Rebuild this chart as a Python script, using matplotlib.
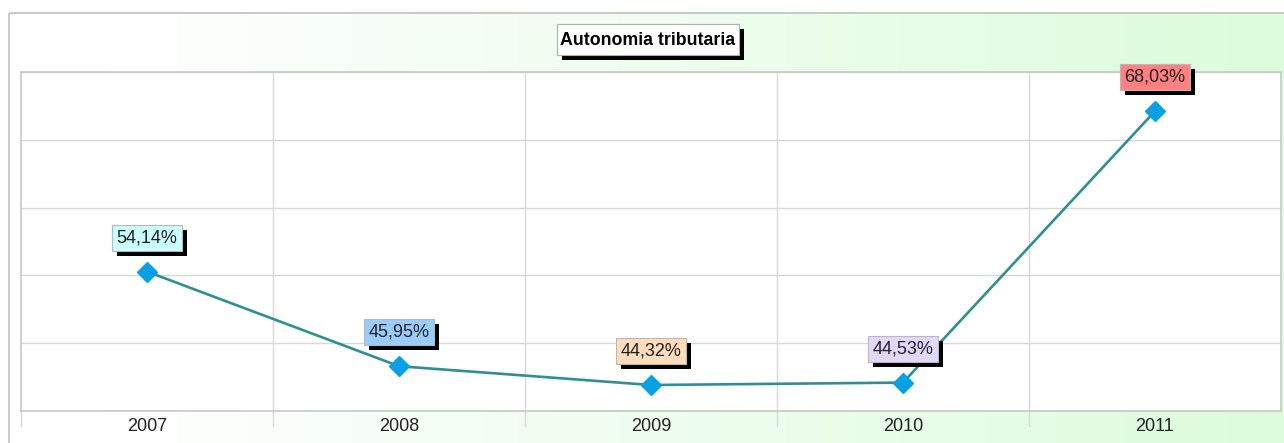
import matplotlib
matplotlib.use("Agg")
import matplotlib.pyplot as plt
import numpy as np
from matplotlib.patches import Rectangle
import matplotlib.colors as mcolors
from matplotlib.transforms import IdentityTransform

years = ["2007", "2008", "2009", "2010", "2011"]
values = [54.14, 45.95, 44.32, 44.53, 68.03]
labels = ["54,14%", "45,95%", "44,32%", "44,53%", "68,03%"]
label_colors = ["#ccffff", "#99ccff", "#ffdcbc", "#e2d8ff", "#ff8080"]
title = "Autonomia tributaria"

W, H = 1284, 443
plt.rcParams['font.family'] = ['Liberation Sans', 'DejaVu Sans']
fig = plt.figure(figsize=(W / 100, H / 100), dpi=100)

# background gradient panel
bg = fig.add_axes([0, 0, 1, 1], zorder=0)
bg.set_xlim(0, W)
bg.set_ylim(H, 0)
bg.axis("off")
grad = np.linspace(0, 1, 512)
grad = np.clip((grad - 0.08) / 0.92, 0, 1)
c0 = np.array(mcolors.to_rgb("#ffffff"))
c1 = np.array(mcolors.to_rgb("#dcfcdc"))
img = c0[None, None, :] * (1 - grad)[None, :, None] + c1[None, None, :] * grad[None, :, None]
bg.imshow(img, extent=[8, W + 10, H, 12], aspect="auto", zorder=0)
bg.add_patch(Rectangle((8.5, 12.5), W, H, fill=False, edgecolor="#c0c0c0", lw=1.2, zorder=1))

# title box with drop shadow
bg.add_patch(Rectangle((562, 29), 182, 31, facecolor="black", edgecolor="none", zorder=2))
bg.add_patch(Rectangle((557, 24), 182, 31, facecolor="white", edgecolor="#b0b0b0", lw=0.8, zorder=3))
bg.text(648, 40, title, ha="center", va="center", fontsize=12.8, fontweight="bold",
        color="black", zorder=4)

# plot axes
x0, x1 = 21, 1281
ytop, ybot = 72, 411
ax = fig.add_axes([x0 / W, (H - ybot) / H, (x1 - x0) / W, (ybot - ytop) / H], zorder=1)
ax.set_facecolor("white")
ymin, ymax = 42.07, 71.42
ax.set_ylim(ymin, ymax)
ax.set_xlim(-0.5, len(years) - 0.5)
xs = np.arange(len(years))
ax.set_yticks(np.linspace(ymin, ymax, 6))
ax.set_yticklabels([])
ax.tick_params(axis="y", length=0)
ax.grid(axis="y", color="#d8d8d8", lw=1)
for b in np.arange(0.5, len(years) - 0.5, 1.0):
    ax.axvline(b, color="#d8d8d8", lw=1, zorder=0)
ax.set_xticks(xs)
ax.set_xticklabels(years, fontsize=13, color="#222222")
ax.tick_params(axis="x", length=0, pad=5)
for s in ["top", "right", "left", "bottom"]:
    ax.spines[s].set_color("#c8c8c8")
    ax.spines[s].set_linewidth(1.2)
ax.set_axisbelow(True)

# tick marks below the axis at category boundaries
for b in list(np.arange(0.5, len(years) - 0.5, 1.0)) + [-0.5]:
    ax.plot([b, b], [ymin, ymin - (15 / (ybot - ytop)) * (ymax - ymin)], color="#d8d8d8", lw=1,
            clip_on=False, zorder=0)

ax.plot(xs, values, color="#2e9090", lw=1.9, zorder=3)
ax.plot(xs, values, linestyle="none", marker="D", markersize=10.5, color="#0aa0e6",
        markeredgecolor="#0aa0e6", zorder=4)

anns = []
for x, v, lab, col in zip(xs, values, labels, label_colors):
    t = ax.annotate(lab, (x, v), xytext=(0, 34), textcoords="offset pixels",
                    ha="center", va="center", fontsize=13, color="#222222", zorder=6,
                    bbox=dict(boxstyle="square,pad=0.25", facecolor=col, edgecolor="#b8b8b8", lw=0.8))
    anns.append(t)

# drop shadows behind the label boxes
fig.canvas.draw()
renderer = fig.canvas.get_renderer()
for t in anns:
    ext = t.get_bbox_patch().get_window_extent(renderer)
    r = Rectangle((ext.x0 + 5, ext.y0 - 5), ext.width, ext.height,
                  facecolor="black", edgecolor="none", zorder=5)
    ax.add_artist(r)
    r.set_transform(IdentityTransform())
    r.set_clip_on(False)

fig.savefig("out.png", dpi=100)
